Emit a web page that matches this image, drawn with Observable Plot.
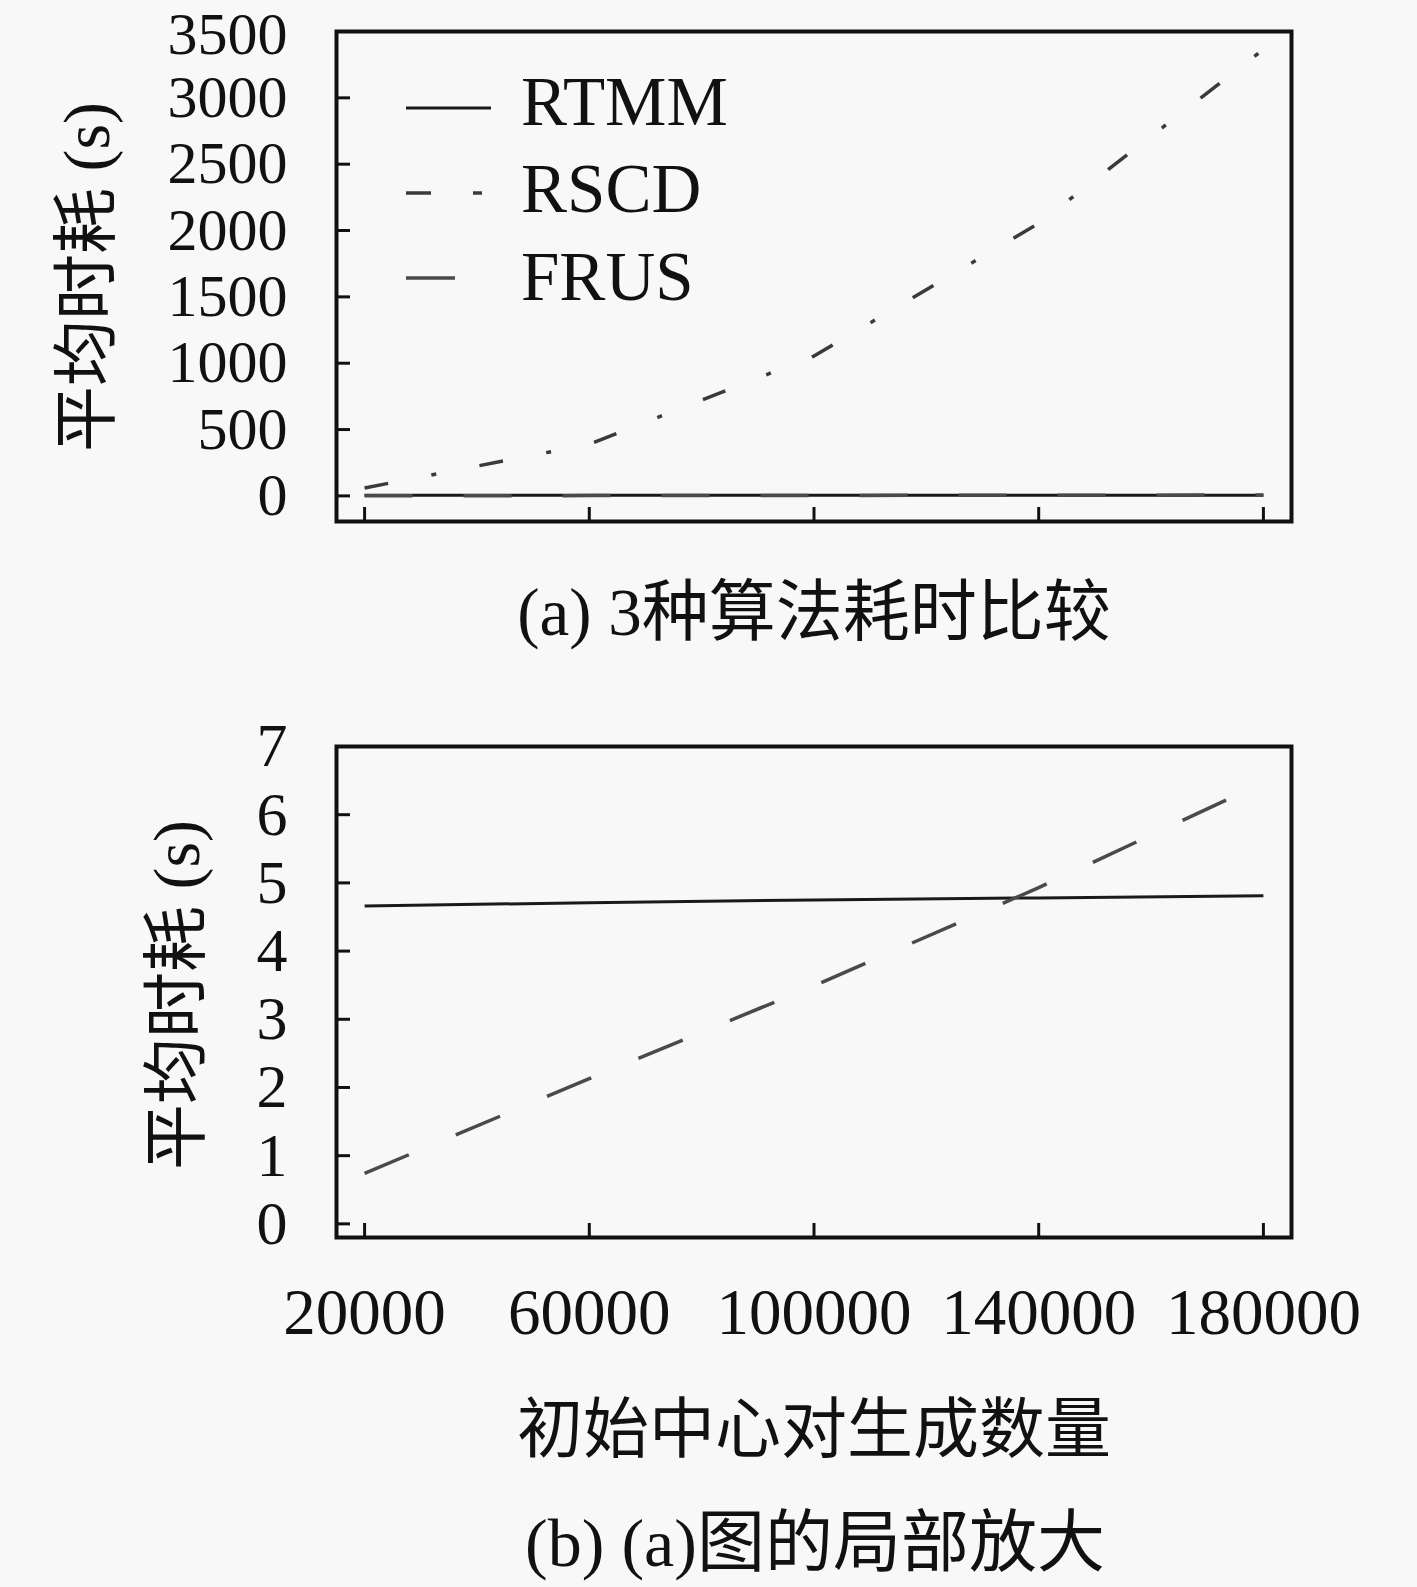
<!DOCTYPE html>
<html>
<head>
<meta charset="utf-8">
<script src="https://cdn.jsdelivr.net/npm/d3@7"></script>
<script src="https://cdn.jsdelivr.net/npm/@observablehq/plot@0.6"></script>
<style>
  html, body { margin: 0; padding: 0; background: #f8f8f8; }
  #root { position: relative; width: 1417px; height: 1587px; overflow: hidden;
          font-family: "Liberation Serif", "Noto Sans CJK SC", serif; color: #111; }
  .abs { position: absolute; white-space: nowrap; line-height: 1; }
  .plot { position: absolute; left: 0; }
</style>
</head>
<body>
<div id="root"></div>
<script>
// ---- data ----
const xValues = [20000, 60000, 100000, 140000, 180000];
const seriesNames = ["RTMM", "RSCD", "FRUS"];
const rtmmValues = [4.66, 4.71, 4.75, 4.78, 4.81];
const rscdValues = [60, 389, 1054, 2054, 3365];
const frusValues = [0.74, 2.13, 3.49, 4.93, 6.47];
const xTicks = [20000, 60000, 100000, 140000, 180000];
const yTicksA = [0, 500, 1000, 1500, 2000, 2500, 3000, 3500];
const yTicksB = [0, 1, 2, 3, 4, 5, 6, 7];
const yLabel = "平均时耗 (s)";
const xLabel = "初始中心对生成数量";
const titleA = "(a) 3种算法耗时比较";
const titleB = "(b) (a)图的局部放大";

// ---- styles ----
const FONT = '"Liberation Serif", "Noto Sans CJK SC", serif';
const seriesStyle = {
  RTMM: {stroke: "#1a1a1a", strokeWidth: 3, dash: null},
  RSCD: {stroke: "#3a3a3a", strokeWidth: 3.5, dash: "24,44,5,44"},
  FRUS: {stroke: "#4a4a4a", strokeWidth: 3.5, dash: "48,51"}
};
const seriesValues = {RTMM: rtmmValues, RSCD: rscdValues, FRUS: frusValues};
const rows = seriesNames.flatMap(name =>
  xValues.map((x, i) => ({series: name, x, y: seriesValues[name][i]})));

const root = document.getElementById("root");
const W = 1417;
const XFS = 65;

function lineMarks() {
  return seriesNames.map(name => Plot.line(rows.filter(r => r.series === name), {
    x: "x", y: "y",
    stroke: seriesStyle[name].stroke,
    strokeWidth: seriesStyle[name].strokeWidth,
    strokeDasharray: seriesStyle[name].dash,
    strokeLinecap: "butt"
  }));
}

function makePlot({height, marginTop, marginBottom, yDomain, yTicks, showX, yfs, topDy}) {
  const marginLeft = 336, marginRight = W - 1291;
  const ph = height - marginTop - marginBottom;
  const pw = W - marginLeft - marginRight;
  const tickLen = 14;
  const topTick = yTicks[yTicks.length - 1];
  return Plot.plot({
    width: W, height, marginLeft, marginRight, marginTop, marginBottom,
    style: {background: "transparent", fontFamily: FONT, fontSize: yfs + "px", color: "#111", overflow: "visible"},
    x: {domain: [15000, 185000], label: null},
    y: {domain: yDomain, label: null},
    marks: [
      Plot.axisY(yTicks.slice(0, -1), {tickSize: 0, tickPadding: 49, tickFormat: d => String(d), label: null, fontSize: yfs}),
      Plot.axisY([topTick], {tickSize: 0, tickPadding: 49, tickFormat: d => String(d), label: null, fontSize: yfs, dy: topDy}),
      showX
        ? Plot.axisX(xTicks, {tickSize: 0, tickPadding: 50, tickFormat: d => String(d), label: null, fontSize: XFS})
        : Plot.axisX([], {label: null, tickSize: 0}),
      Plot.tickY(yTicks.slice(0, -1), {y: d => d, insetRight: pw - tickLen, stroke: "#111", strokeWidth: 3}),
      Plot.tickX(xTicks, {x: d => d, insetTop: ph - tickLen, stroke: "#111", strokeWidth: 3}),
      ...lineMarks(),
      Plot.frame({stroke: "#111", strokeWidth: 4})
    ]
  });
}

// Plot (a)
const plotA = makePlot({height: 540, marginTop: 31, marginBottom: 19, yDomain: [-193, 3500], yTicks: yTicksA, showX: false, yfs: 60, topDy: 3.5});
plotA.classList.add("plot");
plotA.style.top = "0px";
root.appendChild(plotA);

// Plot (b)
const plotB = makePlot({height: 700, marginTop: 46, marginBottom: 163, yDomain: [-0.2, 7], yTicks: yTicksB, showX: true, yfs: 62, topDy: 0});
plotB.classList.add("plot");
plotB.style.top = "700px";
root.appendChild(plotB);

// Legend (inside plot a)
const ns = "http://www.w3.org/2000/svg";
const leg = document.createElementNS(ns, "svg");
leg.setAttribute("width", W); leg.setAttribute("height", 540);
leg.style.position = "absolute"; leg.style.left = "0px"; leg.style.top = "0px";
const legendRows = [
  {name: "RTMM", ly: 108, base: 125, x2: 491},
  {name: "RSCD", ly: 193, base: 212, x2: 482},
  {name: "FRUS", ly: 278, base: 300, x2: 455}
];
const legendDash = {RTMM: null, RSCD: "25,42,9", FRUS: "49,51"};
legendRows.forEach(r => {
  const s = seriesStyle[r.name];
  const ln = document.createElementNS(ns, "line");
  ln.setAttribute("x1", 406); ln.setAttribute("x2", r.x2);
  ln.setAttribute("y1", r.ly); ln.setAttribute("y2", r.ly);
  ln.setAttribute("stroke", s.stroke); ln.setAttribute("stroke-width", s.strokeWidth);
  if (legendDash[r.name]) ln.setAttribute("stroke-dasharray", legendDash[r.name]);
  leg.appendChild(ln);
  const t = document.createElementNS(ns, "text");
  t.setAttribute("x", 521); t.setAttribute("y", r.base);
  t.setAttribute("font-size", 69); t.setAttribute("font-family", FONT);
  t.setAttribute("fill", "#111");
  t.textContent = r.name;
  leg.appendChild(t);
});
root.appendChild(leg);

// Text labels
function addText(txt, cx, cy, size, rotate) {
  const d = document.createElement("div");
  d.className = "abs";
  d.textContent = txt;
  d.style.left = cx + "px"; d.style.top = cy + "px";
  d.style.fontSize = size + "px";
  d.style.transform = "translate(-50%,-50%)" + (rotate ? " rotate(-90deg)" : "");
  root.appendChild(d);
}
addText(yLabel, 87, 277, 66, true);
addText(yLabel, 177, 995, 66, true);
addText(titleA, 814, 612, 67, false);
addText(xLabel, 814, 1430, 66, false);
addText(titleB, 815, 1543, 68, false);
</script>
</body>
</html>
